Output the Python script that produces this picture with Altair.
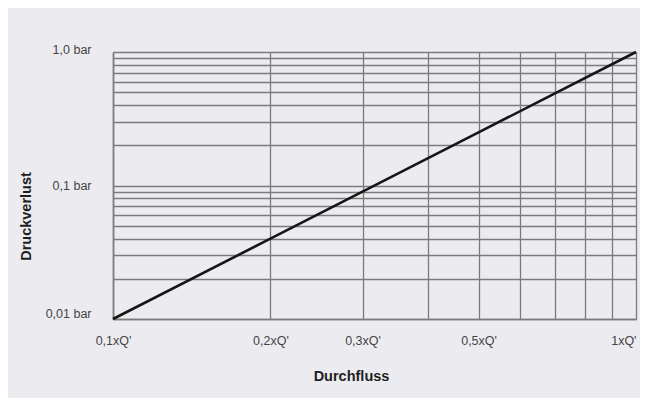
import altair as alt
import pandas as pd

# Data (pressure loss ~ flow^2)
flow = [0.1, 0.2, 0.3, 0.5, 1.0]
pressure = [0.01, 0.04, 0.09, 0.25, 1.0]

x_grid = [0.1, 0.2, 0.3, 0.4, 0.5, 0.6, 0.7, 0.8, 0.9, 1.0]
x_label_vals = [0.1, 0.2, 0.3, 0.5, 1.0]
x_label_txt = ["0,1xQ'", "0,2xQ'", "0,3xQ'", "0,5xQ'", "1xQ'"]

y_grid = [0.01, 0.02, 0.03, 0.04, 0.05, 0.06, 0.07, 0.08, 0.09,
          0.1, 0.2, 0.3, 0.4, 0.5, 0.6, 0.7, 0.8, 0.9, 1.0]
y_label_vals = [0.01, 0.1, 1.0]
y_label_txt = ["0,01 bar", "0,1 bar", "1,0 bar"]

df = pd.DataFrame({"flow": flow, "pressure": pressure})


def label_expr(vals, txts):
    expr = "''"
    for v, t in reversed(list(zip(vals, txts))):
        t_esc = t.replace("'", "\\'")
        expr = f"abs(datum.value - {v}) < 1e-9 ? '{t_esc}' : ({expr})"
    return expr


FONT = "Liberation Sans"
GRID = "#7b7b7b"

chart = alt.Chart(df).mark_line(color="#161616", strokeWidth=2.6).encode(
    x=alt.X(
        "flow:Q",
        scale=alt.Scale(type="log", domain=[0.1, 1.0], nice=False),
        axis=alt.Axis(
            title="Durchfluss",
            values=x_grid,
            labelExpr=label_expr(x_label_vals, x_label_txt),
            grid=True,
            gridColor=GRID,
            gridWidth=1.3,
            gridOpacity=1,
            ticks=False,
            domainColor=GRID,
            domainWidth=1.6,
            labelFont=FONT,
            labelFontSize=12.5,
            labelColor="#444444",
            labelPadding=15,
            labelAlign=alt.ExprRef("datum.value >= 1 ? 'right' : 'center'"),
            titleFont=FONT,
            titleFontSize=14.5,
            titleFontWeight="bold",
            titleColor="#1e1e1e",
            titleX=238,
            titleY=50,
            titleBaseline="top",
        ),
    ),
    y=alt.Y(
        "pressure:Q",
        scale=alt.Scale(type="log", domain=[0.01, 1.0], nice=False),
        axis=alt.Axis(
            title="Druckverlust",
            values=y_grid,
            labelExpr=label_expr(y_label_vals, y_label_txt),
            grid=True,
            gridColor=GRID,
            gridWidth=1.3,
            gridOpacity=1,
            ticks=False,
            domainColor=GRID,
            domainWidth=1.6,
            labelFont=FONT,
            labelFontSize=12.5,
            labelColor="#444444",
            labelPadding=22,
            labelOffset=alt.ExprRef(
                "datum.value < 0.05 ? -6 : (datum.value > 0.5 ? -3 : 0)"
            ),
            titleFont=FONT,
            titleFontSize=14.5,
            titleFontWeight="bold",
            titleColor="#1e1e1e",
            titleX=-83,
            titleY=164,
            titleBaseline="alphabetic",
        ),
    ),
).properties(
    width=523,
    height=267,
    background="#ECECF0",
    padding={"left": 105, "top": 44, "right": 4, "bottom": 79},
    autosize=alt.AutoSizeParams(type="none"),
).configure_view(stroke=None)

chart.save("out.html", embed_options={"renderer": "svg", "actions": False})
